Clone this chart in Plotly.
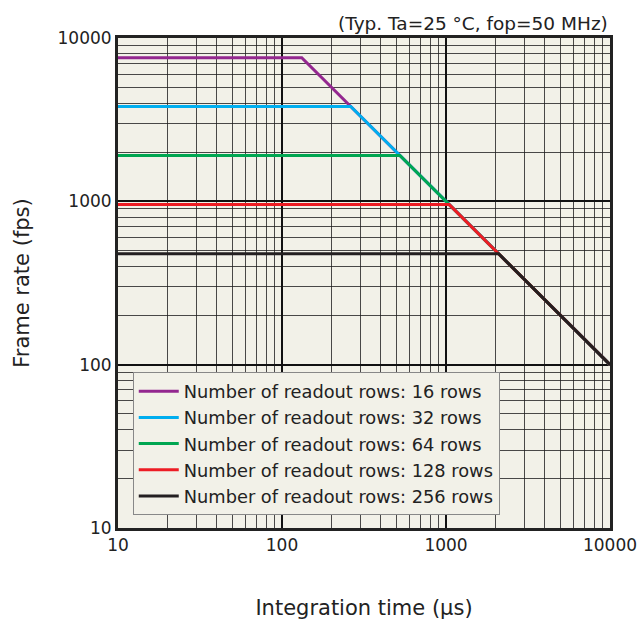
import plotly.graph_objects as go

rows = ["16", "32", "64", "128", "256"]
flat_fps = [7580, 3810, 1910, 955, 478]
colors = ["#93278f", "#00aeef", "#00a651", "#ed1c24", "#231f20"]
tick_vals = [10, 100, 1000, 10000]
tick_text = ["10", "100", "1000", "10000"]
t_min, t_max = 10, 10000
k = 1e6  # frame rate * integration time on the sloped part

fig = go.Figure()
for r, f, c in zip(rows, flat_fps, colors):
    tb = k / f
    fig.add_trace(go.Scatter(
        x=[t_min, tb, t_max], y=[f, f, k / t_max], mode="lines",
        line=dict(color=c, width=3), name=f"Number of readout rows: {r} rows"))

font = "DejaVu Sans"
axis_common = dict(
    type="log", showline=True, linecolor="#222", linewidth=3, mirror=True,
    showgrid=True, gridcolor="#111", gridwidth=1.5,
    tickvals=tick_vals, ticktext=tick_text, automargin=False,
    ticks="", tickfont=dict(size=17, color="#222", family=font),
    minor=dict(showgrid=True, gridcolor="rgba(30,30,30,0.8)", gridwidth=1, dtick="D1", ticks=""),
    zeroline=False,
)
fig.update_xaxes(range=[1, 4], title=dict(text="Integration time (μs)", font=dict(size=21, color="#222", family=font), standoff=46), **axis_common)
fig.update_yaxes(range=[1, 4], title=dict(text="Frame rate (fps)", font=dict(size=21, color="#222", family=font), standoff=23), **axis_common)

fig.update_layout(
    width=639, height=622,
    margin=dict(l=118, r=29, t=38, b=94, autoexpand=False),
    paper_bgcolor="white", plot_bgcolor="#f2f1e8",
    font=dict(family=font, color="#222"),
    showlegend=True,
    legend=dict(x=0.03, y=0.026, xanchor="left", yanchor="bottom",
                bgcolor="#f2f1e8", bordercolor="#888", borderwidth=1,
                font=dict(size=17.8, color="#222", family=font), tracegroupgap=0,
                itemwidth=40),
    annotations=[dict(text="(Typ. Ta=25 °C, fop=50 MHz)", xref="paper", yref="paper",
                      x=1.0, y=1.0, xanchor="right", yanchor="bottom", yshift=2,
                      showarrow=False, font=dict(size=18.5, color="#222", family=font))],
)
fig.write_html("out.html")
